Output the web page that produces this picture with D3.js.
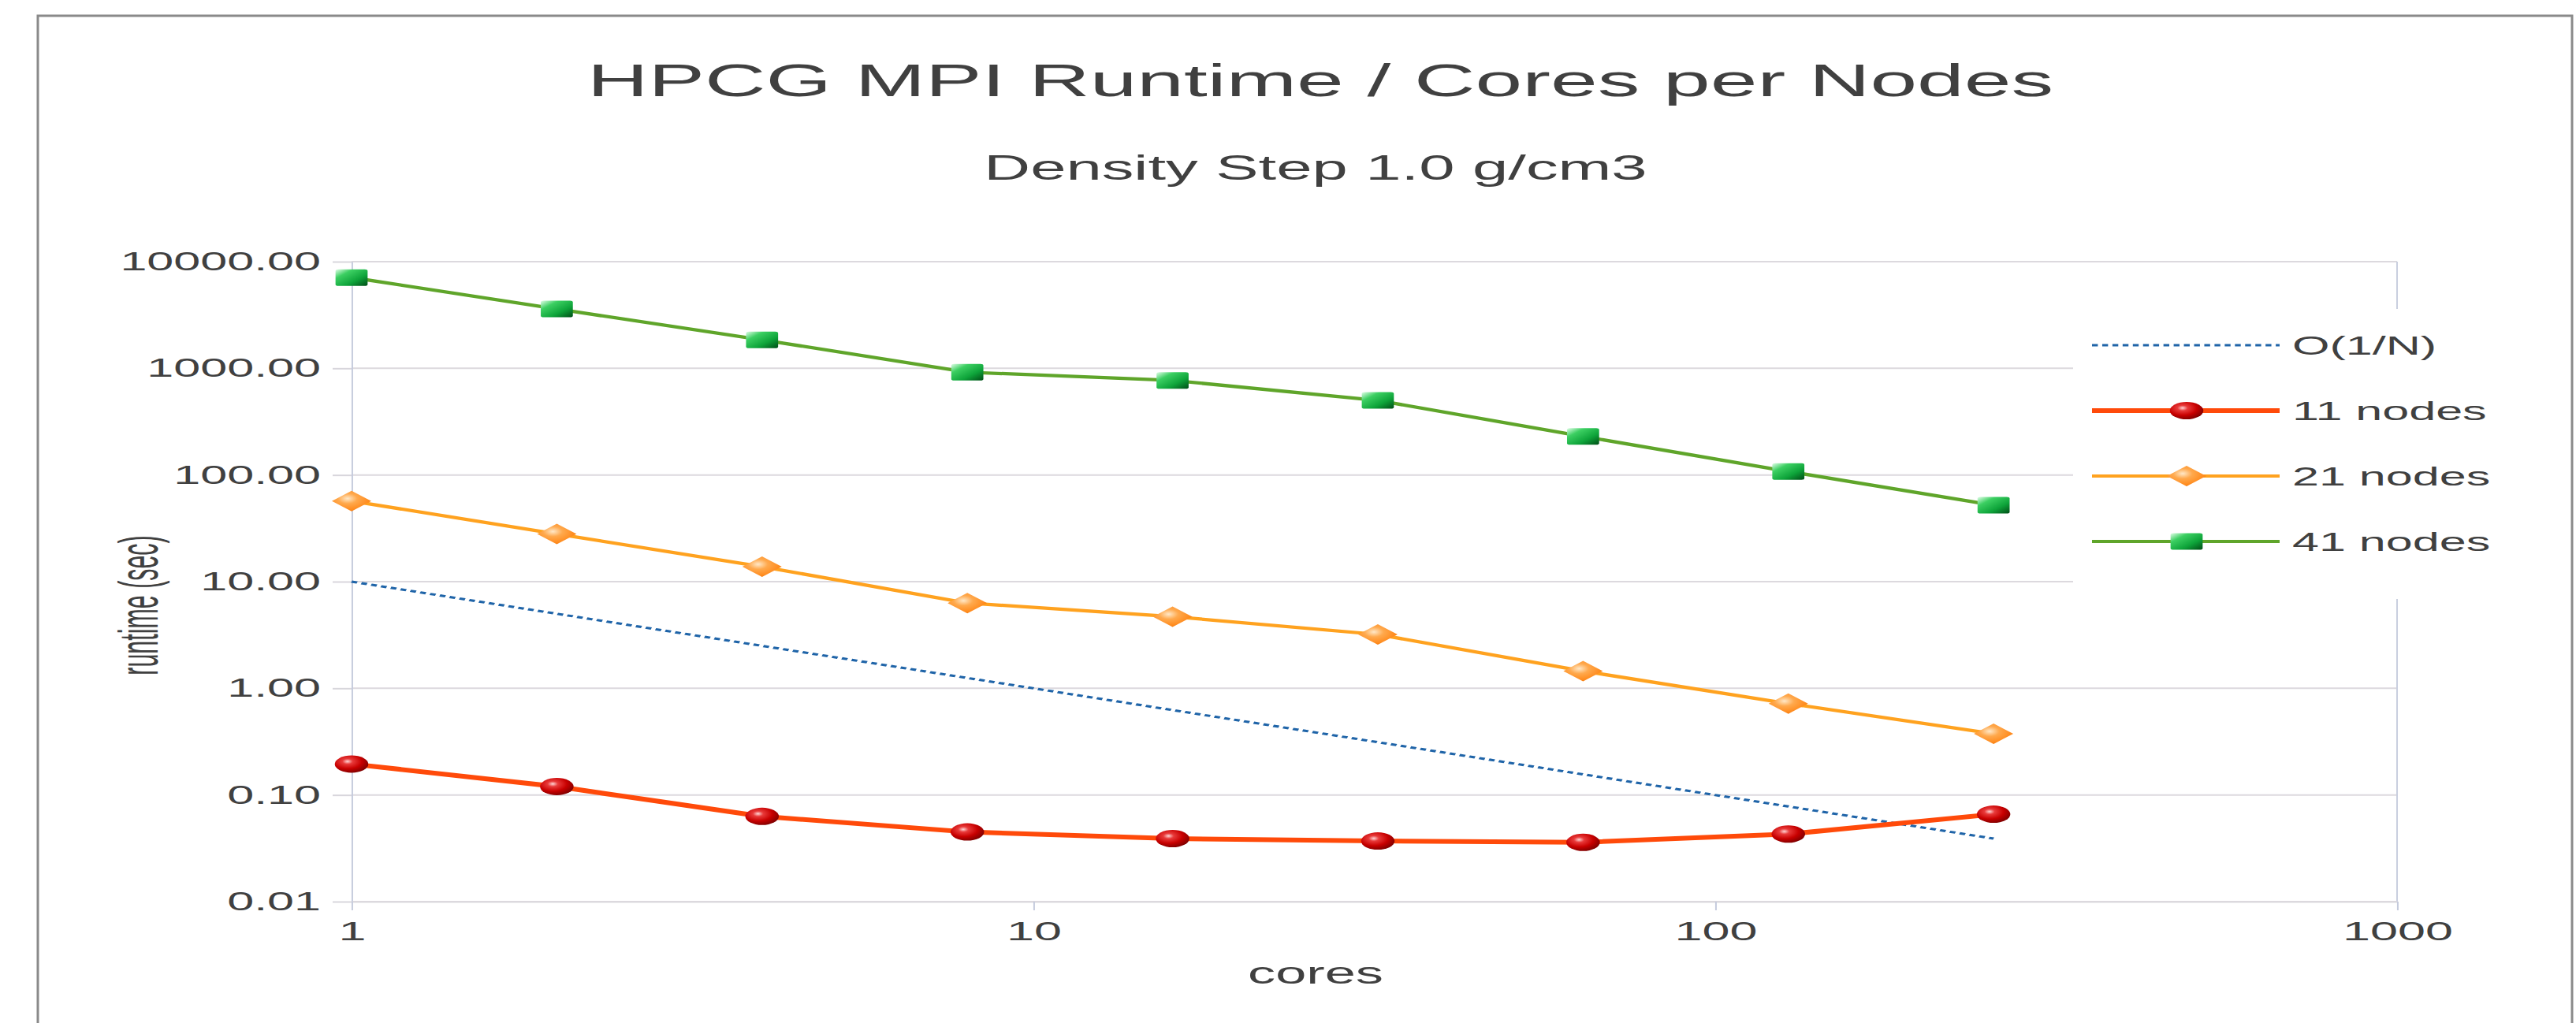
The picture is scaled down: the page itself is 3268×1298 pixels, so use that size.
<!DOCTYPE html>
<html>
<head>
<meta charset="utf-8">
<script src="https://cdn.jsdelivr.net/npm/d3@7"></script>
<style>
  html, body { margin: 0; padding: 0; background: #fff; overflow: hidden; }
  svg { display: block; }
</style>
</head>
<body>
<div id="chart"></div>
<script>
// ---- data ----
const cores = [1, 2, 4, 8, 16, 32, 64, 128, 256];
const idealRuntime = [10, 5, 2.5, 1.25, 0.625, 0.3125, 0.156, 0.078, 0.039];
const runtime11 = [0.195, 0.12, 0.063, 0.045, 0.039, 0.037, 0.036, 0.043, 0.066];
const runtime21 = [57, 28, 13.8, 6.3, 4.7, 3.2, 1.45, 0.72, 0.375];
const runtime41 = [7100, 3600, 1850, 920, 770, 500, 230, 108, 52];
const seriesNames = ["O(1/N)", "11 nodes", "21 nodes", "41 nodes"];
const xTicks = [1, 10, 100, 1000];
const yTicks = [0.01, 0.1, 1, 10, 100, 1000, 10000];
const titleText = "HPCG MPI Runtime / Cores per Nodes";
const subtitleText = "Density Step 1.0 g/cm3";
const xTitle = "cores";
const yTitle = "runtime (sec)";

// ---- canvas: drawn in a narrow coordinate space, widened horizontally ----
const W = 3268, H = 1298;
const K = 1.85;                 // horizontal widening factor
const VW = W / K;
const px = v => v / K;          // screen x -> drawing x

const svg = d3.select("#chart").append("svg")
  .attr("width", W).attr("height", H)
  .attr("viewBox", `0 0 ${VW} ${H}`)
  .attr("preserveAspectRatio", "none")
  .style("font-family", "'Liberation Sans', Arial, sans-serif");

const defs = svg.append("defs");
const rg = defs.append("radialGradient").attr("id", "gRed")
  .attr("cx", "38%").attr("cy", "35%").attr("r", "70%");
[[0, "#ffd6d6"], [0.22, "#e83a3a"], [0.6, "#c80000"], [1, "#7a0000"]]
  .forEach(([o, c]) => rg.append("stop").attr("offset", o).attr("stop-color", c));
const og = defs.append("radialGradient").attr("id", "gOrange")
  .attr("cx", "40%").attr("cy", "38%").attr("r", "70%");
[[0, "#ffe8c8"], [0.35, "#ffa94d"], [0.8, "#ff8a1c"], [1, "#e06a00"]]
  .forEach(([o, c]) => og.append("stop").attr("offset", o).attr("stop-color", c));
const gg = defs.append("linearGradient").attr("id", "gGreen")
  .attr("x1", 0).attr("y1", 0).attr("x2", 1).attr("y2", 1);
[[0, "#e2ffe8"], [0.28, "#3ccf62"], [0.65, "#0ea43a"], [1, "#004d16"]]
  .forEach(([o, c]) => gg.append("stop").attr("offset", o).attr("stop-color", c));

// outer frame
svg.append("rect")
  .attr("x", px(48)).attr("y", 20)
  .attr("width", px(3263 - 48)).attr("height", 1400)
  .attr("fill", "#fff").attr("stroke", "#8a8a8a").attr("stroke-width", 3)
  .attr("vector-effect", "non-scaling-stroke");

// ---- scales ----
const x = d3.scaleLog().domain([1, 1000]).range([px(446), px(3041)]);
const y = d3.scaleLog().domain([0.01, 10000]).range([1144, 332]);

const textColor = "#404040";

// horizontal grid lines
svg.append("g").selectAll("line").data(yTicks).join("line")
  .attr("x1", x(1)).attr("x2", x(1000))
  .attr("y1", d => y(d)).attr("y2", d => y(d))
  .attr("stroke", "#dcd9de").attr("stroke-width", 2)
  .attr("vector-effect", "non-scaling-stroke");

// right border of plot area
svg.append("line")
  .attr("x1", x(1000)).attr("x2", x(1000))
  .attr("y1", y(10000)).attr("y2", y(0.01))
  .attr("stroke", "#c9cfdf").attr("stroke-width", 2)
  .attr("vector-effect", "non-scaling-stroke");

// y axis
const yAxis = svg.append("g")
  .attr("transform", `translate(${x(1)},0)`)
  .call(d3.axisLeft(y).tickValues(yTicks).tickFormat(d3.format(".2f"))
    .tickSize(px(24)).tickSizeOuter(0).tickPadding(px(15)));
yAxis.select(".domain").attr("stroke", "#c5cbdd").attr("stroke-width", 2)
  .attr("vector-effect", "non-scaling-stroke");
yAxis.selectAll(".tick line").attr("stroke", "#d8d6dc").attr("stroke-width", 2)
  .attr("vector-effect", "non-scaling-stroke");
yAxis.selectAll(".tick text").attr("fill", textColor).style("font-size", "33px");

// x axis
const xAxis = svg.append("g")
  .attr("transform", `translate(0,${y(0.01)})`)
  .call(d3.axisBottom(x).tickValues(xTicks).tickFormat(d3.format("d"))
    .tickSize(11).tickSizeOuter(0).tickPadding(14));
xAxis.select(".domain").attr("stroke", "#dcd9de").attr("stroke-width", 2)
  .attr("vector-effect", "non-scaling-stroke");
xAxis.selectAll(".tick line").attr("stroke", "#c5cbdd").attr("stroke-width", 2)
  .attr("vector-effect", "non-scaling-stroke");
xAxis.selectAll(".tick text").attr("fill", textColor).style("font-size", "34px");

// titles
svg.append("text").attr("x", px(1675)).attr("y", 122)
  .attr("text-anchor", "middle").attr("fill", textColor)
  .style("font-size", "58px").text(titleText);
svg.append("text").attr("x", px(1669)).attr("y", 228)
  .attr("text-anchor", "middle").attr("fill", textColor)
  .style("font-size", "44px").text(subtitleText);
svg.append("text").attr("x", px(1669)).attr("y", 1248)
  .attr("text-anchor", "middle").attr("fill", textColor)
  .style("font-size", "38px").text(xTitle);
// vertical axis title, set in a condensed width
svg.append("text")
  .attr("transform", `translate(${px(200)},768) rotate(-90) scale(0.8,1)`)
  .attr("text-anchor", "middle").attr("fill", textColor)
  .style("font-size", "38px").text(yTitle);

// ---- series ----
const series = [
  { name: seriesNames[0], values: idealRuntime, color: "#1f64a8", width: 3, dash: "4,3", marker: null },
  { name: seriesNames[1], values: runtime11, color: "#ff4a0a", width: 6, dash: null, marker: "circle" },
  { name: seriesNames[2], values: runtime21, color: "#ffa21f", width: 4.2, dash: null, marker: "diamond" },
  { name: seriesNames[3], values: runtime41, color: "#5fa52a", width: 4.2, dash: null, marker: "square" }
];

function drawMarker(sel, type) {
  if (type === "circle") {
    sel.append("ellipse").attr("rx", 11.5).attr("ry", 11).attr("fill", "url(#gRed)");
  } else if (type === "diamond") {
    sel.append("path").attr("d", "M0,-13L13.5,0L0,13L-13.5,0Z").attr("fill", "url(#gOrange)");
  } else if (type === "square") {
    sel.append("rect").attr("x", -11).attr("y", -10.5).attr("width", 22).attr("height", 21)
      .attr("rx", 2).attr("fill", "url(#gGreen)");
  }
}

const line = d3.line().x(d => x(d[0])).y(d => y(d[1]));
series.forEach(s => {
  const pts = cores.map((c, i) => [c, s.values[i]]);
  const g = svg.append("g");
  g.append("path").datum(pts).attr("d", line)
    .attr("fill", "none").attr("stroke", s.color).attr("stroke-width", s.width)
    .attr("stroke-dasharray", s.dash).attr("stroke-linejoin", "round");
  if (s.marker) {
    g.selectAll("g.pt").data(pts).join("g").attr("class", "pt")
      .attr("transform", d => `translate(${x(d[0])},${y(d[1])})`)
      .each(function () { drawMarker(d3.select(this), s.marker); });
  }
});

// ---- legend ----
const legend = svg.append("g");
legend.append("rect").attr("x", px(2630)).attr("y", 392)
  .attr("width", px(610)).attr("height", 368).attr("fill", "#fff");
const legendY = [438, 521, 604, 687];
series.forEach((s, i) => {
  const ly = legendY[i];
  legend.append("line").attr("x1", px(2654)).attr("x2", px(2892))
    .attr("y1", ly).attr("y2", ly)
    .attr("stroke", s.color).attr("stroke-width", s.width).attr("stroke-dasharray", s.dash);
  if (s.marker) {
    const m = legend.append("g").attr("transform", `translate(${px(2774)},${ly})`);
    drawMarker(m, s.marker);
  }
  legend.append("text").attr("x", px(2908)).attr("y", ly).attr("dy", "0.36em")
    .attr("fill", textColor).style("font-size", "33px").text(s.name);
});
</script>
</body>
</html>
